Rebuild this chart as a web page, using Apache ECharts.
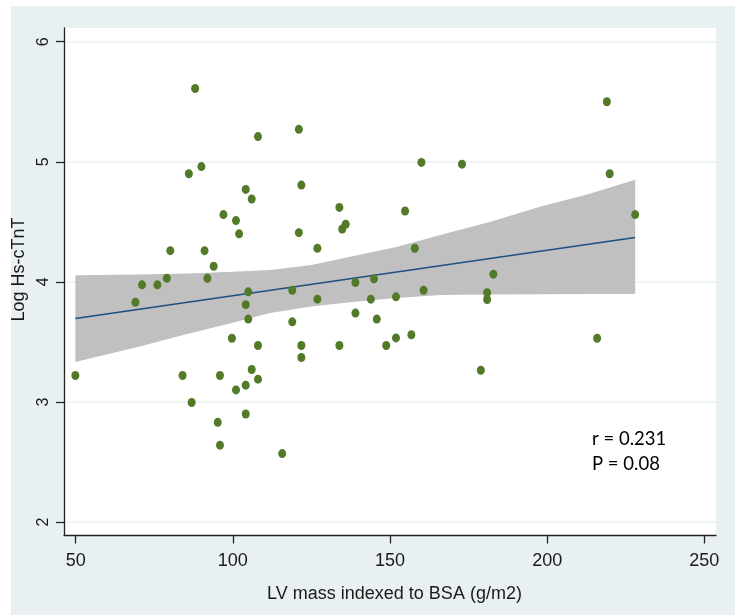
<!DOCTYPE html>
<html>
<head>
<meta charset="utf-8">
<script src="https://cdn.jsdelivr.net/npm/echarts@6/dist/echarts.min.js"></script>
<style>
html,body{margin:0;padding:0;background:#ffffff;}
#chart{width:743px;height:615px;}
</style>
</head>
<body>
<div id="chart"></div>
<script>
// LV mass indexed to BSA (g/m2)
const lvMass = [
  49.9, 69.0, 71.1, 76.0, 79.0, 80.1, 84.0, 86.0, 86.9, 88.0,
  90.0, 91.0, 91.9, 93.9, 95.2, 95.9, 95.9, 97.0, 99.7, 101.0,
  101.0, 102.0, 104.1, 104.1, 104.1, 104.1, 104.9, 104.9, 106.0, 106.0,
  108.0, 108.0, 108.0, 115.7, 118.9, 118.9, 121.0, 121.0, 121.8, 121.8,
  121.8, 126.9, 126.9, 133.9, 133.9, 134.8, 135.9, 139.0, 139.0, 143.9,
  144.9, 145.8, 148.8, 151.9, 151.9, 154.8, 156.8, 157.9, 160.0, 160.7,
  172.9, 178.9, 180.9, 180.9, 182.9, 215.9, 219.0, 219.9, 228.0
];
// Log Hs-cTnT
const logTnT = [
  3.22, 3.83, 3.975, 3.975, 4.03, 4.26, 3.22, 4.90, 2.995, 5.61,
  4.96, 4.26, 4.03, 4.13, 2.83, 3.22, 2.64, 4.56, 3.53, 4.51,
  3.10, 4.40, 4.77, 3.81, 3.14, 2.90, 3.917, 3.69, 4.69, 3.27,
  5.21, 3.47, 3.19, 2.57, 3.93, 3.667, 5.27, 4.41, 4.806, 3.47,
  3.37, 4.28, 3.856, 4.62, 3.47, 4.44, 4.48, 3.995, 3.74, 3.856,
  4.025, 3.69, 3.47, 3.875, 3.533, 4.59, 3.56, 4.28, 4.995, 3.93,
  4.98, 3.264, 3.91, 3.853, 4.064, 3.53, 5.50, 4.90, 4.56
];
// fitted line end points
const fitX = [49.9, 228.0];
const fitY = [3.695, 4.37];
// 95% confidence band
const bandX     = [49.9, 70.0, 85.5, 100.0, 111.8, 125.0, 137.3, 152.0, 166.0, 182.0, 197.7, 213.0, 228.0];
const bandUpper = [4.056, 4.062, 4.07, 4.085, 4.098, 4.14, 4.21, 4.29, 4.39, 4.50, 4.625, 4.73, 4.85];
const bandLower = [3.333, 3.46, 3.565, 3.66, 3.74, 3.795, 3.83, 3.865, 3.89, 3.895, 3.897, 3.898, 3.898];

const xTicks = [50, 100, 150, 200, 250];
const yTicks = [2, 3, 4, 5, 6];
const statLines = ['r = 0.231', 'P = 0.08'];

const chart = echarts.init(document.getElementById('chart'), null, {renderer: 'canvas'});

const labelFont = "'Liberation Sans', Arial, sans-serif";

const option = {
  animation: false,
  backgroundColor: '#ffffff',
  graphic: [
    {type: 'rect', left: 11, top: 6, z: -10, silent: true,
     shape: {width: 724, height: 609}, style: {fill: '#e8f0f2'}},
    {type: 'rect', left: 64, top: 28, z: -9, silent: true,
     shape: {width: 652, height: 507}, style: {fill: '#ffffff'}},
    {type: 'text', left: 592, top: 426, z: 100,
     style: {text: statLines.join('\n'), font: "18.5px Lato, 'Open Sans', sans-serif", fill: '#000', lineHeight: 25.6}}
  ],
  grid: {left: 64, top: 28, right: 27, bottom: 80, containLabel: false},
  xAxis: {
    type: 'value', min: 46.28, max: 253.72,
    name: 'LV mass indexed to BSA (g/m2)', nameLocation: 'middle', nameGap: 50,
    nameTextStyle: {fontFamily: labelFont, fontSize: 18, color: '#1a1a1a', padding: [0, 0, 0, 9]},
    axisLine: {show: true, onZero: false, lineStyle: {color: '#222', width: 1.3}},
    axisTick: {show: true, customValues: xTicks, length: 8.5, lineStyle: {color: '#222', width: 1.3}},
    axisLabel: {customValues: xTicks, margin: 17, fontFamily: labelFont, fontSize: 18, color: '#1a1a1a'},
    splitLine: {show: false}
  },
  yAxis: {
    type: 'value', min: 1.892, max: 6.114,
    name: 'Log Hs-cTnT', nameLocation: 'middle', nameGap: 25, nameRotate: 90,
    nameTextStyle: {fontFamily: labelFont, fontSize: 18, color: '#1a1a1a', padding: [0, 0, 0, 24]},
    axisLine: {show: true, onZero: false, lineStyle: {color: '#222', width: 1.3}},
    axisTick: {show: true, customValues: yTicks, length: 8, lineStyle: {color: '#222', width: 1.3}},
    axisLabel: {customValues: yTicks, rotate: 90, margin: 12, align: 'center', verticalAlign: 'bottom',
                fontFamily: labelFont, fontSize: 16, color: '#1a1a1a'},
    splitLine: {show: false}
  },
  series: [
    {
      type: 'line', name: 'grid', data: [], silent: true, z: 0,
      markLine: {
        silent: true, symbol: 'none', label: {show: false}, z: 0,
        lineStyle: {color: '#eaf1f1', width: 1.5, type: 'solid'},
        data: yTicks.map(v => ({yAxis: v}))
      }
    },
    {
      type: 'custom', name: 'CI', z: 10, silent: true,
      data: [0],
      renderItem: function (params, api) {
        const pts = [];
        for (let i = 0; i < bandX.length; i++) pts.push(api.coord([bandX[i], bandUpper[i]]));
        for (let i = bandX.length - 1; i >= 0; i--) pts.push(api.coord([bandX[i], bandLower[i]]));
        return {type: 'polygon', shape: {points: pts}, style: {fill: '#c0c0c0', stroke: null}};
      }
    },
    {
      type: 'line', name: 'fit', z: 11, silent: true, symbol: 'none',
      data: fitX.map((x, i) => [x, fitY[i]]),
      lineStyle: {color: '#1e4f80', width: 1.5}
    },
    {
      type: 'scatter', name: 'obs', z: 12,
      symbol: 'circle', symbolSize: [8, 9],
      data: lvMass.map((x, i) => [x, logTnT[i]]),
      itemStyle: {color: '#527a29', opacity: 1}
    }
  ]
};
chart.setOption(option);
</script>
</body>
</html>
